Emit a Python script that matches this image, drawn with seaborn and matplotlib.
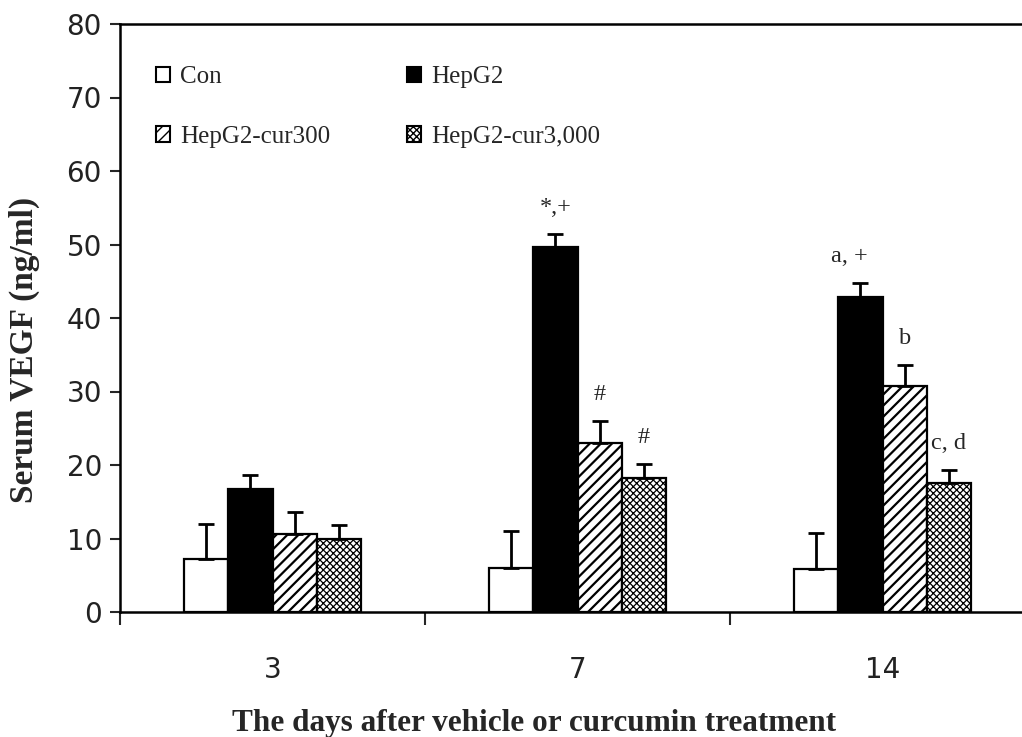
import pandas as pd
import numpy as np
import matplotlib
matplotlib.use("Agg")
import matplotlib.pyplot as plt
import seaborn as sns
from matplotlib.patches import Patch

# Data
days = ["3", "7", "14"]
groups = ["Con", "HepG2", "HepG2-cur300", "HepG2-cur3,000"]
con = [7.2, 6.0, 5.9]
hepg2 = [16.7, 49.6, 42.8]
cur300 = [10.6, 23.0, 30.7]
cur3000 = [9.9, 18.2, 17.5]
con_err = [4.8, 5.0, 4.8]
hepg2_err = [1.9, 1.8, 2.0]
cur300_err = [3.0, 3.0, 2.9]
cur3000_err = [1.9, 1.9, 1.8]
# significance marks: (day, group, label)
marks = [("7", "HepG2", "*,+"), ("7", "HepG2-cur300", "#"), ("7", "HepG2-cur3,000", "#"),
         ("14", "HepG2", "a, +"), ("14", "HepG2-cur300", "b"), ("14", "HepG2-cur3,000", "c, d")]

values = [con, hepg2, cur300, cur3000]
errors = [con_err, hepg2_err, cur300_err, cur3000_err]
rows = []
for g, v, e in zip(groups, values, errors):
    for d, vv, ee in zip(days, v, e):
        rows.append({"day": d, "group": g, "vegf": vv, "err": ee})
df = pd.DataFrame(rows)

sns.set_style("ticks")
fills = {"Con": "white", "HepG2": "black", "HepG2-cur300": "white", "HepG2-cur3,000": "white"}
hatches = {"Con": "", "HepG2": "", "HepG2-cur300": "///", "HepG2-cur3,000": "xxxxx"}
hatch_lw = {"Con": 1, "HepG2": 1, "HepG2-cur300": 1.6, "HepG2-cur3,000": 0.9}

fig = plt.figure(figsize=(10.22, 7.37), dpi=100)
ax = fig.add_axes([120 / 1022, 125 / 737, 902 / 1022, 588 / 737])

sns.barplot(data=df, x="day", y="vegf", hue="group", order=days, hue_order=groups,
            palette=fills, width=0.58, errorbar=None, edgecolor="black",
            linewidth=1.6, legend=False, ax=ax)

# style bars + error bars
bars = [p for p in ax.patches]
for i, g in enumerate(groups):
    for j, d in enumerate(days):
        p = bars[i * len(days) + j]
        p.set_hatch(hatches[g])
        if hasattr(p, "set_hatch_linewidth"):
            p.set_hatch_linewidth(hatch_lw[g])
        xc = p.get_x() + p.get_width() / 2
        h = p.get_height()
        e = errors[i][j]
        ax.errorbar(xc, h, yerr=[[0], [e]], fmt="none", ecolor="black",
                    elinewidth=2, capsize=6, capthick=2, zorder=5)

for d, g, lab in marks:
    i, j = groups.index(g), days.index(d)
    p = bars[i * len(days) + j]
    xc = p.get_x() + p.get_width() / 2
    top = values[i][j] + errors[i][j] + 3.6
    if lab == "a, +":
        xc -= 0.035
    ax.text(xc, top, lab, ha="center", va="center", fontsize=17.5,
            family="Liberation Serif")

ax.set_ylim(0, 80)
ax.set_xlim(-0.5, 2.457)
ax.set_yticks(range(0, 81, 10))
ax.tick_params(axis="y", labelsize=20, length=7, width=1.5, pad=6, direction="out",
               labelcolor="#222222")
ax.tick_params(axis="x", which="major", labelsize=20, length=0, pad=32, labelcolor="#222222")
ax.set_xticks([-0.5, 0.5, 1.5], minor=True)
ax.tick_params(axis="x", which="minor", length=9, width=1.5, direction="out")

for s in ["left", "bottom", "top"]:
    ax.spines[s].set_linewidth(1.8)
    ax.spines[s].set_color("black")
ax.spines["right"].set_visible(False)

ax.set_ylabel("Serum VEGF (ng/ml)", fontsize=24, fontweight="bold", family="Liberation Serif")
ax.yaxis.set_label_coords(-0.0887, 0.446)
ax.set_xlabel("The days after vehicle or curcumin treatment", fontsize=22.5,
              fontweight="bold", family="Liberation Serif")
ax.xaxis.set_label_coords(0.459, -0.189)
ax.xaxis.label.set_va("center")

# legend, ordered so rows read Con / HepG2, cur300 / cur3,000
handles = []
for g in ["Con", "HepG2-cur300", "HepG2", "HepG2-cur3,000"]:
    hp = Patch(facecolor=fills[g], edgecolor="black", hatch=hatches[g], linewidth=1.5, label=g)
    handles.append(hp)
leg = ax.legend(handles=handles, ncol=2, frameon=False, loc="upper left",
                bbox_to_anchor=(0.040, 0.928), prop={"family": "Liberation Serif", "size": 18},
                handlelength=0.55, handleheight=0.55, handletextpad=0.4, borderpad=0,
                borderaxespad=0, columnspacing=3.1, labelspacing=1.5)

fig.savefig("out.png", dpi=100)
